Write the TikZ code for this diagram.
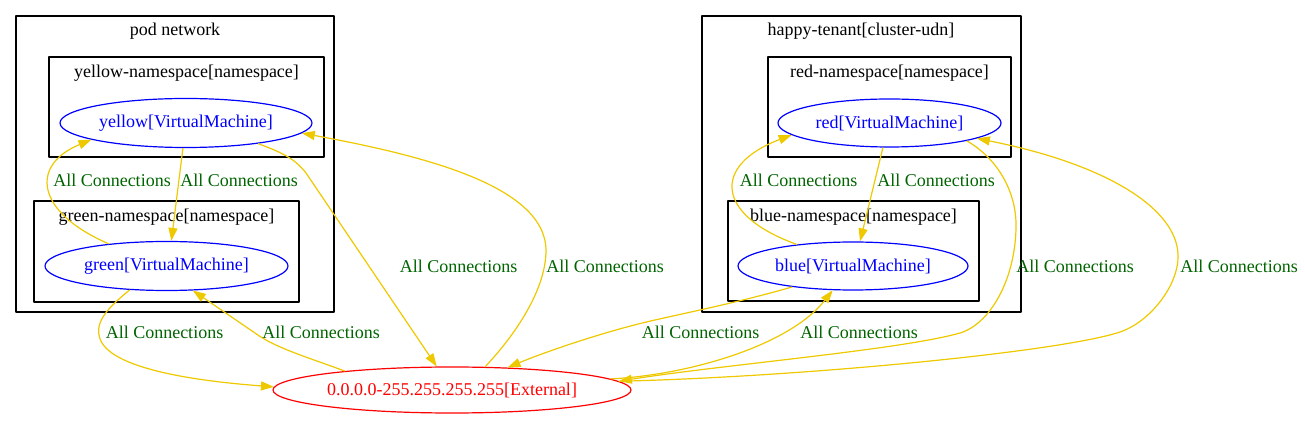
\documentclass[tikz,border=0pt]{standalone}
\usepackage{fontspec}
\setmainfont{Liberation Serif}
\usetikzlibrary{arrows.meta,shapes.geometric}
\definecolor{edgegold}{RGB}{238,201,0}
\definecolor{lblgreen}{RGB}{0,100,0}
\begin{document}
\begin{tikzpicture}[x=1pt,y=1pt,>={Triangle[length=13pt,width=9pt]}, font=\fontsize{18}{22}\selectfont, line join=round,
	vm/.style={ellipse,draw=blue,text=blue,line width=1.2pt,inner sep=0pt},
	extnode/.style={ellipse,draw=red,text=red,line width=1.2pt,inner sep=0pt},
	ns/.style={draw,line width=1.2pt},
	conn/.style={->,edgegold,line width=1.2pt},
	lbl/.style={text=lblgreen,inner sep=0pt}]
	\def\lab{All Connections}
	\useasboundingbox (0,0) rectangle (1305,420);
	%	\draw[color=gray!50,dashed] (0,0) grid[step=50] (1305,420);
	% clusters
	\draw[ns] (16,108) rectangle (334,404);
	\node (podt) at (175,389) {pod network};
	\draw[ns] (49,263) rectangle (324,363);
	\node (yellowt) at (186.5,347) {yellow-namespace[namespace]};
	\draw[ns] (34,118) rectangle (299,219);
	\node (greent) at (166.5,203) {green-namespace[namespace]};
	\draw[ns] (702,108) rectangle (1021,404);
	\node (happyt) at (861,389) {happy-tenant[cluster-udn]};
	\draw[ns] (768,263) rectangle (1011,363);
	\node (redt) at (889.5,347) {red-namespace[namespace]};
	\draw[ns] (728,119) rectangle (979,219);
	\node (bluet) at (853.5,203) {blue-namespace[namespace]};
	% nodes
	\node[vm,minimum width=252pt,minimum height=49pt] (yellow) at (186,297) {yellow[VirtualMachine]};
	\node[vm,minimum width=243pt,minimum height=49pt] (green) at (166.5,154) {green[VirtualMachine]};
	\node[vm,minimum width=223pt,minimum height=48pt] (red) at (889.5,297) {red[VirtualMachine]};
	\node[vm,minimum width=230pt,minimum height=48pt] (blue) at (853,154) {blue[VirtualMachine]};
	\node[extnode,minimum width=358pt,minimum height=46pt] (ext) at (452,30) {0.0.0.0-255.255.255.255[External]};
	% edges
	\draw[conn] (green.159) .. controls (35,208) and (30,255) .. (yellow.190);
	\draw[conn] (yellow.263) -- (green.79);
	\draw[conn] (yellow.344) .. controls (284,267) and (296,260) .. (306,247) -- (ext.123);
	\draw[conn] (ext.35) .. controls (515,85) and (546,130) .. (546,170) .. controls (545,235) and (420,265) .. (yellow.355);
	\draw[conn] (green.213) .. controls (105,110) and (92,95) .. (102,77) .. controls (120,48) and (210,38) .. (ext.179);
	\draw[conn] (ext.170) .. controls (310,62) and (275,72) .. (255,87) -- (green.317);
	\draw[conn] (red.255) -- (blue.74);
	\draw[conn] (blue.159) .. controls (715,205) and (712,255) .. (red.187);
	\draw[conn] (blue.199) .. controls (740,118) and (690,108) .. (655,100) .. controls (610,90) and (550,70) .. (ext.22);
	\draw[conn] (ext.4.2) .. controls (690,45) and (790,75) .. (blue.230);
	\draw[conn] (red.347) .. controls (1000,260) and (1017,225) .. (1016,192) .. controls (1015,140) and (990,96) .. (960,87) .. controls (900,70) and (720,55) .. (ext.3.7);
	\draw[conn] (ext.3.2) .. controls (800,43) and (1060,68) .. (1120,88) .. controls (1150,98) and (1179,135) .. (1178,165) .. controls (1177,210) and (1110,255) .. (red.350);
	% labels
	\node[lbl] (lgy) at (112,240) {\lab};
	\node[lbl] (lyg) at (239,240) {\lab};
	\node[lbl] (lye) at (458.5,154) {\lab};
	\node[lbl] (ley) at (605,154) {\lab};
	\node[lbl] (lge) at (164.5,88) {\lab};
	\node[lbl] (leg) at (321,88) {\lab};
	\node[lbl] (lbr) at (798.5,240) {\lab};
	\node[lbl] (lrb) at (936,240) {\lab};
	\node[lbl] (lbe) at (700.5,88) {\lab};
	\node[lbl] (leb) at (859,88) {\lab};
	\node[lbl] (lre) at (1075,154) {\lab};
	\node[lbl] (ler) at (1239,154) {\lab};
\end{tikzpicture}
\end{document}
